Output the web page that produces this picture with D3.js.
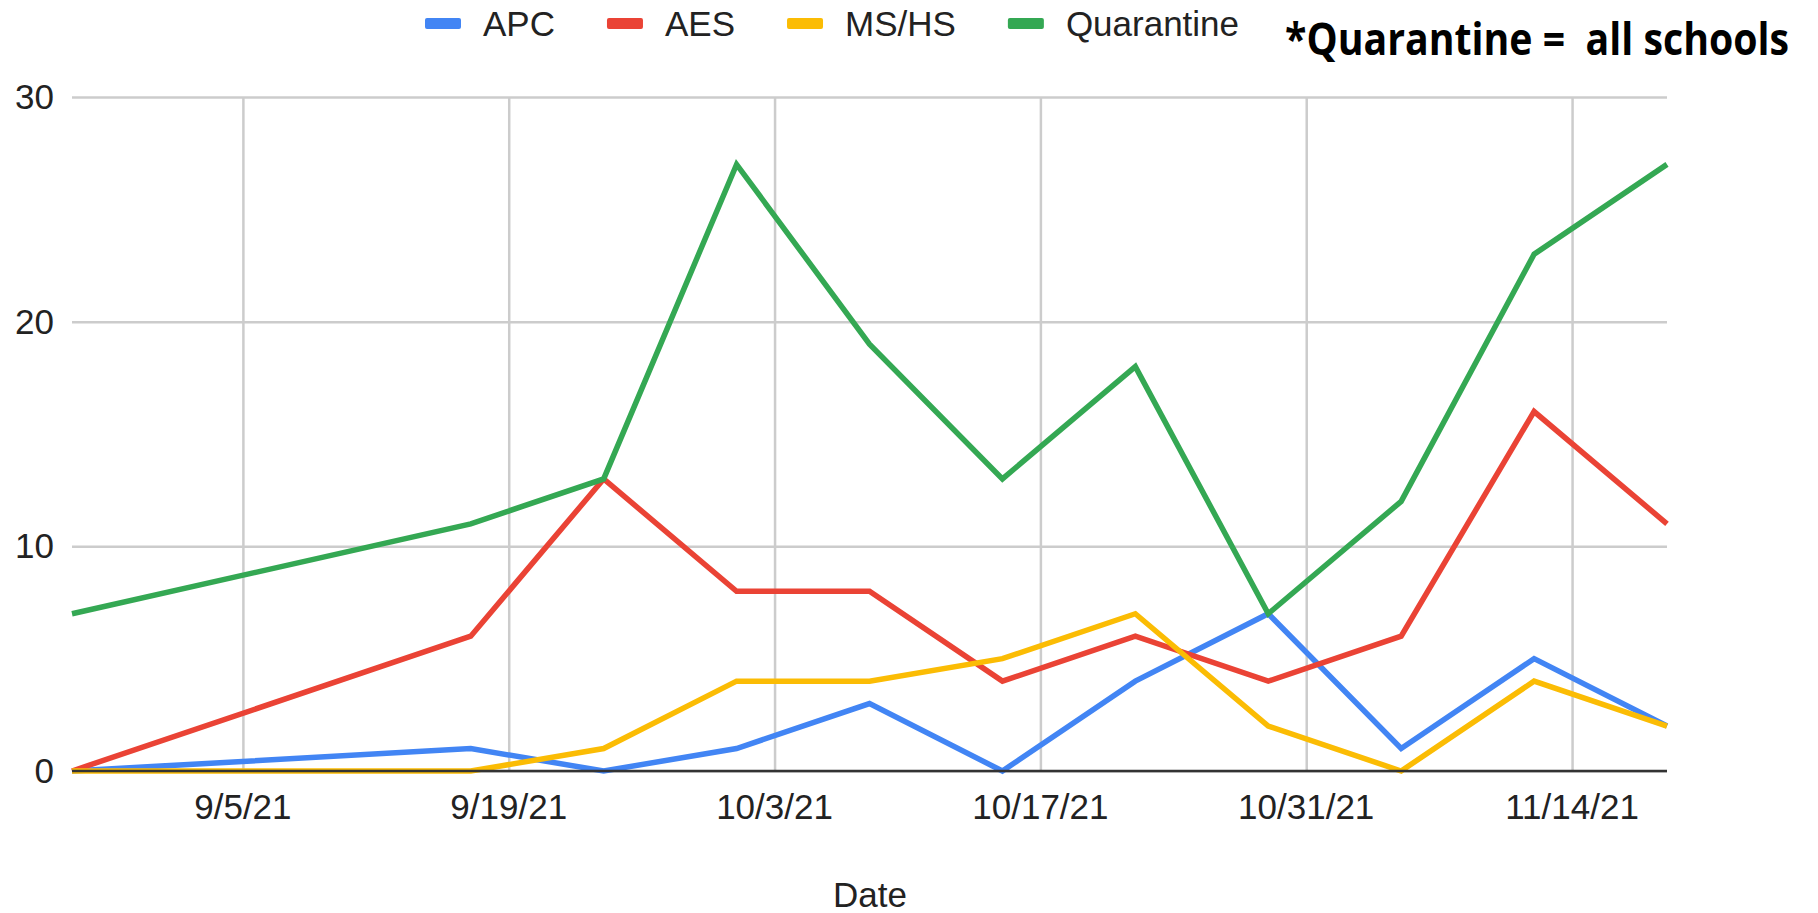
<!DOCTYPE html>
<html>
<head>
<meta charset="utf-8">
<script src="https://cdn.jsdelivr.net/npm/d3@7"></script>
<style>
  body { margin: 0; background: #fff; }
  text { font-family: "Liberation Sans", Arial, sans-serif; fill: #222; }
  .grid line { stroke: #cccccc; stroke-width: 2.5; }
  .grid path { display: none; }
  .tickLabel { font-size: 35px; }
  .note { font-family: "Open Sans", "DejaVu Sans", sans-serif; font-weight: bold; fill: #000; white-space: pre; }
</style>
</head>
<body>
<div id="chart"></div>
<script>
const dates = ['2021-08-27', '2021-09-17', '2021-09-24', '2021-10-01', '2021-10-08',
  '2021-10-15', '2021-10-22', '2021-10-29', '2021-11-05', '2021-11-12', '2021-11-19'];
const apc = [0, 1, 0, 1, 3, 0, 4, 7, 1, 5, 2];
const aes = [0, 6, 13, 8, 8, 4, 6, 4, 6, 16, 11];
const mshs = [0, 0, 1, 4, 4, 5, 7, 2, 0, 4, 2];
const quarantine = [7, 11, 13, 27, 19, 13, 18, 7, 12, 23, 27];
const seriesNames = ['APC', 'AES', 'MS/HS', 'Quarantine'];
const seriesColors = ['#4285f4', '#ea4335', '#fbbc04', '#34a853'];
const xTickDates = ['2021-09-05', '2021-09-19', '2021-10-03', '2021-10-17', '2021-10-31', '2021-11-14'];
const yTicks = [0, 10, 20, 30];

const width = 1818;
const height = 913;
const plot = {left: 72, right: 1667, top: 97, bottom: 771};
const parse = d3.timeParse('%Y-%m-%d');

const svg = d3.select('#chart').append('svg')
  .attr('width', width)
  .attr('height', height);
svg.append('rect').attr('width', width).attr('height', height).attr('fill', '#fff');

const x = d3.scaleTime()
  .domain([parse(dates[0]), parse(dates[dates.length - 1])])
  .range([plot.left, plot.right]);
const y = d3.scaleLinear()
  .domain([0, 30])
  .range([plot.bottom, plot.top]);

// gridlines
svg.append('g')
  .attr('class', 'grid')
  .attr('transform', `translate(0,${plot.bottom})`)
  .call(d3.axisBottom(x).tickValues(xTickDates.map(parse)).tickSize(-(plot.bottom - plot.top)).tickFormat(''));
svg.append('g')
  .attr('class', 'grid')
  .attr('transform', `translate(${plot.left},0)`)
  .call(d3.axisLeft(y).tickValues(yTicks).tickSize(-(plot.right - plot.left)).tickFormat(''));

// tick labels
svg.append('g').selectAll('text')
  .data(xTickDates.map(parse))
  .join('text')
  .attr('class', 'tickLabel')
  .attr('x', d => x(d))
  .attr('y', 819)
  .attr('text-anchor', 'middle')
  .text(d3.timeFormat('%-m/%-d/%y'));
svg.append('g').selectAll('text')
  .data(yTicks)
  .join('text')
  .attr('class', 'tickLabel')
  .attr('x', 54)
  .attr('y', d => y(d) + 12)
  .attr('text-anchor', 'end')
  .text(d => d);

// series lines
const allSeries = [apc, aes, mshs, quarantine];
const line = d3.line()
  .x((d, i) => x(parse(dates[i])))
  .y(d => y(d));
svg.append('g').selectAll('path')
  .data(allSeries)
  .join('path')
  .attr('fill', 'none')
  .attr('stroke', (d, i) => seriesColors[i])
  .attr('stroke-width', 5.5)
  .attr('stroke-linejoin', 'miter')
  .attr('d', line);

// baseline
svg.append('line')
  .attr('x1', plot.left).attr('x2', plot.right)
  .attr('y1', y(0)).attr('y2', y(0))
  .attr('stroke', '#333').attr('stroke-width', 2.5);

// axis title
svg.append('text')
  .attr('class', 'tickLabel')
  .attr('x', 870)
  .attr('y', 907)
  .attr('text-anchor', 'middle')
  .text('Date');

// legend
const legend = svg.append('g').attr('transform', 'translate(425,0)');
let lx = 0;
seriesNames.forEach((name, i) => {
  legend.append('rect')
    .attr('x', lx).attr('y', 18)
    .attr('width', 36).attr('height', 11)
    .attr('rx', 2)
    .attr('fill', seriesColors[i]);
  const t = legend.append('text')
    .attr('class', 'tickLabel')
    .attr('x', lx + 58)
    .attr('y', 36)
    .text(name);
  lx += 58 + t.node().getComputedTextLength() + 52;
});

// note - fit the font size to the width in the reference, then stretch a bit vertically
const note = svg.append('text')
  .attr('class', 'note')
  .style('font-size', '40px')
  .attr('transform', 'translate(1285,55) scale(1,1.12)')
  .text('*Quarantine =  all schools');
const noteWidth = note.node().getComputedTextLength();
note.style('font-size', `${40 * 504 / noteWidth}px`);
</script>
</body>
</html>
